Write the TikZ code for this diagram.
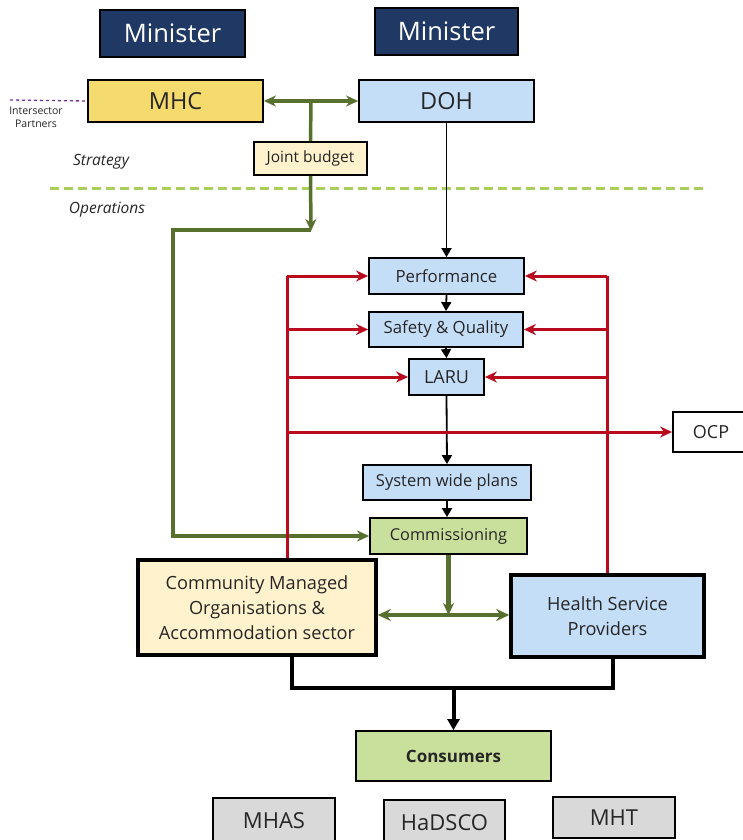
\documentclass[tikz,border=0pt]{standalone}
\usepackage{fontspec}
\setmainfont{Open Sans}
\usetikzlibrary{arrows.meta}
\usetikzlibrary{calc}
\usepackage{xcolor}

\definecolor{navy}{RGB}{31,56,100}
\definecolor{mhcyel}{RGB}{245,218,110}
\definecolor{ltblue}{RGB}{197,222,248}
\definecolor{ltyel}{RGB}{255,242,204}
\definecolor{ltgrn}{RGB}{201,224,157}
\definecolor{ltgray}{RGB}{217,217,217}
\definecolor{olive}{RGB}{88,112,45}
\definecolor{dkred}{RGB}{185,10,30}
\definecolor{dashgrn}{RGB}{170,206,90}
\definecolor{purp}{RGB}{112,48,160}
\definecolor{txt}{RGB}{38,38,38}

\begin{document}
\begin{tikzpicture}[x=1pt,y=-1pt,
  box/.style={draw,line width=1.8pt,inner sep=0pt,text=txt},
  bigbox/.style={box,line width=3.5pt,align=center,font=\fontsize{18.2}{25}\selectfont},
  fs/.style={font=\fontsize{#1}{\dimexpr#1pt*5/4\relax}\selectfont},
  grn/.style={draw=olive,line width=3.5pt,arrows={-Stealth[length=12pt,width=11pt]}},
  redln/.style={draw=dkred,line width=3pt},
  redarr/.style={redln,-{Stealth[length=12pt,width=11pt]}},
  blk/.style={draw=black,line width=1.8pt,-{Triangle[length=9pt,width=10pt]}}]
\useasboundingbox (0,0) rectangle (743,840);

\node[box,fill=navy,text=white,fs=25.5,minimum width=145pt,minimum height=47pt] (min1) at (172.5,33.5) {Minister};
\node[box,fill=navy,text=white,fs=25.5,minimum width=143pt,minimum height=47pt] (min2) at (446.5,31.5) {Minister};
\node[box,fill=mhcyel,fs=23.5,minimum width=175pt,minimum height=42pt] (mhc) at (175.5,101) {MHC};
\node[box,fill=ltblue,fs=23.5,minimum width=175pt,minimum height=42pt] (doh) at (446.5,101) {DOH};
\node[box,fill=ltyel,fs=15.5,minimum width=113pt,minimum height=33pt] (jb) at (310.5,158.5) {Joint budget};

\node[text=txt,fs=10.5,align=center,inner sep=0pt] (isp) at (36,117) {Intersector\\Partners};
\node[text=txt,font=\fontsize{15.5}{19}\selectfont\itshape,inner sep=0pt] (strat) at (101,162) {Strategy};
\node[text=txt,font=\fontsize{15.5}{19}\selectfont\itshape,inner sep=0pt] (ops) at (107,210) {Operations};
\draw[purp,line width=1.3pt,dashed] (10,100) -- (mhc.west);
\draw[dashgrn,line width=3pt,dash pattern=on 9pt off 5pt] (50,188) -- (708,188);

\node[box,fill=ltblue,fs=16.8,minimum width=155pt,minimum height=36pt] (perf) at (446.5,276) {Performance};
\node[box,fill=ltblue,fs=16.8,minimum width=154pt,minimum height=35pt] (sq) at (446,329.5) {Safety \& Quality};
\node[box,fill=ltblue,fs=18,minimum width=75pt,minimum height=36pt] (laru) at (446.5,377) {LARU};
\node[box,fill=white,fs=18,minimum width=76pt,minimum height=40pt] (ocp) at (711,432) {OCP};
\node[box,fill=ltblue,fs=16.5,minimum width=168pt,minimum height=35pt] (swp) at (447,482.5) {System wide plans};
\node[box,fill=ltgrn,fs=16.3,minimum width=157pt,minimum height=36pt] (comm) at (448.5,536) {Commissioning};

\node[bigbox,fill=ltyel,minimum width=238pt,minimum height=95pt] (cmo) at (257,607.5) {Community Managed\\Organisations \&\\Accommodation sector};
\node[bigbox,fill=ltblue,minimum width=193pt,minimum height=82pt] (hsp) at (607.5,616) {Health Service\\Providers};
\node[box,fill=ltgrn,font=\fontsize{17}{21}\selectfont\bfseries,minimum width=195pt,minimum height=50pt] (cons) at (453.5,756) {Consumers};

\node[box,fill=ltgray,fs=22,minimum width=122pt,minimum height=46pt] (mhas) at (274,821) {MHAS};
\node[box,fill=ltgray,fs=22,minimum width=121pt,minimum height=46pt] (hadsco) at (444.5,823) {HaDSCO};
\node[box,fill=ltgray,fs=22,minimum width=122pt,minimum height=41pt] (mht) at (614,817.5) {MHT};

% joint budget links
\draw[grn,arrows={Stealth[length=12pt,width=11pt]-Stealth[length=12pt,width=11pt]}] (mhc.east) -- (doh.west);
\coordinate (jt) at (311,101);
\coordinate (jd) at (311,231);
\coordinate (gl) at (173,230);
\draw[grn,-] (jt) -- (jb.north);
\draw[grn] (jb.south) -- (jd);
\draw[grn] (jd |- gl) -- (gl) |- (comm.west);

% department chain
\draw[blk] (doh.south) -- (perf.north);
\draw[blk] (perf.south) -- (sq.north);
\draw[blk] (sq.south) -- (laru.north);
\draw[blk] (laru.south) -- (swp.north);
\draw[blk] (swp.south) -- (swp.south |- comm.north);

% reporting lines
\coordinate (rl) at (287,276);
\coordinate (rr) at (607,276);
\draw[redln] (rl) -- (rl |- cmo.north);
\draw[redln] (rr) -- (rr |- hsp.north);
\foreach \n in {perf,sq,laru} {
  \draw[redarr] (rl |- \n.west) -- (\n.west);
  \draw[redarr] (rr |- \n.east) -- (\n.east);
}
\draw[redarr] (rl |- ocp.west) -- (ocp.west);

% funding to providers
\coordinate (cj) at (448.5,615);
\draw[grn,line width=4.5pt] (comm.south) -- (cj);
\draw[grn,arrows={Stealth[length=13pt,width=12pt]-Stealth[length=13pt,width=12pt]}] (cmo.east |- cj) -- (hsp.west |- cj);

% services to consumers
\coordinate (bl) at (292,688);
\coordinate (br) at (613,688);
\draw[line width=4pt] (cmo.south -| bl) -- (bl) -- (br) -- (hsp.south -| br);
\draw[blk,line width=4pt,-{Triangle[length=11pt,width=12pt]}] (cons.north |- bl) -- (cons.north);
\end{tikzpicture}
\end{document}
